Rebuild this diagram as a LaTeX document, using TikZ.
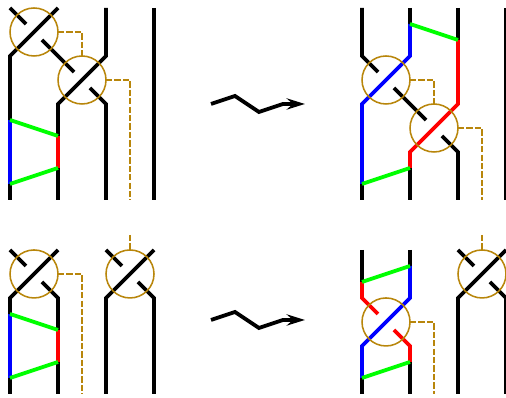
\documentclass[tikz,border=0pt]{standalone}
\usetikzlibrary{arrows.meta}
\definecolor{gategold}{HTML}{B8860B}

\begin{document}
\begin{tikzpicture}[scale=0.6,
  strand/.style={line width=2.7pt,black},
  bluestrand/.style={line width=2.7pt,blue},
  redstrand/.style={line width=2.7pt,red},
  greenstrand/.style={line width=2.7pt,green},
  move/.style={line width=2.7pt,black,-{Stealth[length=13pt,width=8pt,inset=4.5pt]}},
  gate/.style={line width=1.1pt,gategold},
  wire/.style={line width=1.1pt,gategold,dash pattern=on 4.5pt off 1.5pt}]
\useasboundingbox (-0.417,0.333) rectangle (20.667,-16.25);

  % top left
  \draw[strand] (2,0)--(0,-2)--(0,-8);
  \draw[strand] (0,0)--(0.667,-0.667);
  \draw[strand] (1.333,-1.333)--(2.667,-2.667);
  \draw[strand] (4,0)--(4,-2)--(2,-4)--(2,-8);
  \draw[strand] (3.333,-3.333)--(4,-4)--(4,-8);
  \draw[strand] (6,0)--(6,-8);
  \draw[bluestrand] (0,-4.667)--(0,-7.333);
  \draw[redstrand] (2,-5.333)--(2,-6.667);
  \draw[greenstrand] (0,-4.667)--(2,-5.333);
  \draw[greenstrand] (0,-7.333)--(2,-6.667);
  \draw[gate] (1,-1) circle (1);
  \draw[gate] (3,-3) circle (1);
  \draw[wire] (2,-1)--(3,-1)--(3,-2);
  \draw[wire] (4,-3)--(5,-3)--(5,-8);

  \draw[move] (8.375,-4)--(9.375,-3.667)--(10.375,-4.333)--(11.375,-4)--(12.29,-4);

  % top right
  \begin{scope}[xshift=14.667cm]
  \draw[strand] (0,0)--(0,-2)--(0.667,-2.667);
  \draw[strand] (1.333,-3.333)--(2.667,-4.667);
  \draw[strand] (2,0)--(2,-0.667);
  \draw[strand] (4,0)--(4,-1.333);
  \draw[strand] (2,-6.667)--(2,-8);
  \draw[strand] (0,-7.333)--(0,-8);
  \draw[strand] (3.333,-5.333)--(4,-6)--(4,-8);
  \draw[strand] (6,0)--(6,-8);
  \draw[bluestrand] (2,-0.667)--(2,-2)--(0,-4)--(0,-7.333);
  \draw[redstrand] (4,-1.333)--(4,-4)--(2,-6)--(2,-6.667);
  \draw[greenstrand] (2,-0.667)--(4,-1.333);
  \draw[greenstrand] (0,-7.333)--(2,-6.667);
  \draw[gate] (1,-3) circle (1);
  \draw[gate] (3,-5) circle (1);
  \draw[wire] (2,-3)--(3,-3)--(3,-4);
  \draw[wire] (4,-5)--(5,-5)--(5,-8);
  \end{scope}

  % bottom left
  \begin{scope}[yshift=-10.083cm]
  \draw[strand] (2,0)--(0,-2)--(0,-6);
  \draw[strand] (0,0)--(0.667,-0.667);
  \draw[strand] (1.333,-1.333)--(2,-2)--(2,-6);
  \draw[bluestrand] (0,-2.667)--(0,-5.333);
  \draw[redstrand] (2,-3.333)--(2,-4.667);
  \draw[greenstrand] (0,-2.667)--(2,-3.333);
  \draw[greenstrand] (0,-5.333)--(2,-4.667);
  \draw[gate] (1,-1) circle (1);
  \draw[wire] (2,-1)--(3,-1)--(3,-6);
  \draw[strand] (6,0)--(4,-2)--(4,-6);
  \draw[strand] (4,0)--(4.667,-0.667);
  \draw[strand] (5.333,-1.333)--(6,-2)--(6,-6);
  \draw[gate] (5,-1) circle (1);
  \draw[wire] (5,0.625)--(5,0);
  \end{scope}

  \draw[move] (8.375,-13)--(9.375,-12.667)--(10.375,-13.333)--(11.375,-13)--(12.29,-13);

  % bottom right
  \begin{scope}[xshift=14.667cm,yshift=-10.083cm]
  \draw[strand] (0,0)--(0,-1.333);
  \draw[strand] (2,0)--(2,-0.667);
  \draw[strand] (0,-5.333)--(0,-6);
  \draw[strand] (2,-4.667)--(2,-6);
  \draw[redstrand] (0,-1.333)--(0,-2)--(0.667,-2.667);
  \draw[redstrand] (1.333,-3.333)--(2,-4)--(2,-4.667);
  \draw[bluestrand] (2,-0.667)--(2,-2)--(0,-4)--(0,-5.333);
  \draw[greenstrand] (0,-1.333)--(2,-0.667);
  \draw[greenstrand] (0,-5.333)--(2,-4.667);
  \draw[gate] (1,-3) circle (1);
  \draw[wire] (2,-3)--(3,-3)--(3,-6);
  \draw[strand] (6,0)--(4,-2)--(4,-6);
  \draw[strand] (4,0)--(4.667,-0.667);
  \draw[strand] (5.333,-1.333)--(6,-2)--(6,-6);
  \draw[gate] (5,-1) circle (1);
  \draw[wire] (5,0.625)--(5,0);
  \end{scope}

\end{tikzpicture}
\end{document}
